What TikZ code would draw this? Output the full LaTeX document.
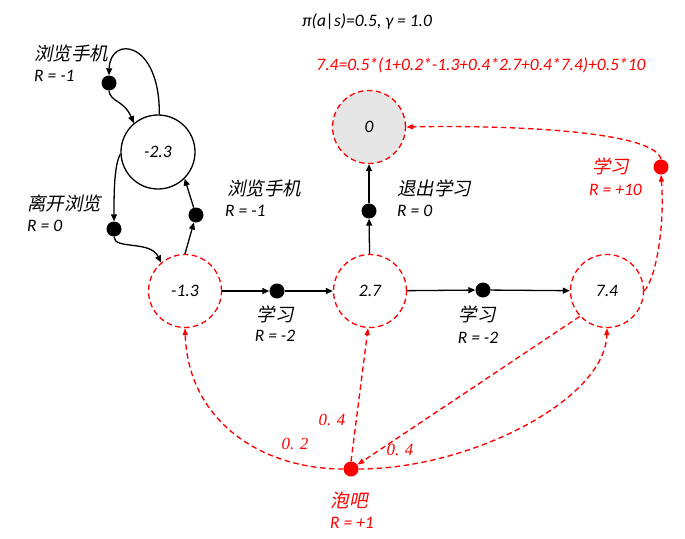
\documentclass[tikz,border=0pt]{standalone}
\usepackage{fontspec}
\setmainfont{Carlito}
\newfontfamily\cjkfont[FakeSlant=0.2]{Noto Sans CJK SC}
\newfontfamily\numserif{Liberation Serif}
\usetikzlibrary{arrows.meta}
\definecolor{rred}{RGB}{255,0,0}
\definecolor{termgray}{RGB}{230,230,230}
\tikzset{
  lat/.style={font=\itshape\fontsize{17.5}{19}\selectfont,inner sep=0pt},
  cjk/.style={font=\cjkfont\fontsize{18.5}{20}\selectfont,inner sep=0pt},
  prob/.style={font=\numserif\itshape\fontsize{17}{19}\selectfont,inner sep=0pt,text=rred},
  statebox/.style={circle,minimum size=73pt,inner sep=0pt,line width=1.3pt,
    font=\itshape\fontsize{17.5}{19}\selectfont},
  redstate/.style={statebox,draw=rred,dash pattern=on 5.5pt off 3.5pt},
  blackstate/.style={statebox,draw=black,minimum size=74pt},
  bdot/.style={circle,fill=black,minimum size=15pt,inner sep=0pt},
  rdot/.style={circle,fill=rred,minimum size=15pt,inner sep=0pt},
  barr/.style={line width=1.3pt,-{Triangle[length=7pt,width=6pt]}},
  rarr/.style={line width=1.35pt,draw=rred,dash pattern=on 5.5pt off 3.5pt,
    -{Triangle[length=7pt,width=5pt]}},
}
\begin{document}
\begin{tikzpicture}[x=1pt,y=-1pt]
\useasboundingbox (0,0) rectangle (685,538);

% states
\node[blackstate] (s1) at (158,152) {-2.3};
\node[redstate] (s2) at (185,291) {-1.3};
\node[redstate] (s3) at (370,291) {2.7};
\node[redstate] (s4) at (607,291) {7.4};
\node[redstate,fill=termgray] (s0) at (369,127) {0};

% action dots
\node[bdot] (dA) at (109,83) {};
\node[bdot] (dB) at (114,229) {};
\node[bdot] (dC) at (196,215) {};
\node[bdot] (dD) at (277,291) {};
\node[bdot] (dE) at (483,290) {};
\node[bdot] (dF) at (369,211) {};
\node[rdot] (dR) at (351,469) {};
\node[rdot] (dS) at (661,167) {};

% black connectors
\draw[barr] (s1.88) .. controls (160,40) and (110,35) .. (dA.north);
\draw[barr] (dA.south) .. controls (110,102) and (124,100) .. (s1.130);
\draw[barr] (s1.183) .. controls (114,165) and (114,195) .. (dB.north);
\draw[barr] (dB.south) .. controls (114,250) and (150,240) .. (s2.130);
\draw[barr] (s2.north) -- (dC);
\draw[barr] (dC) -- (s1.-45);
\draw[barr] (s2) -- (dD);
\draw[barr] (dD) -- (s3);
\draw[barr] (s3) -- (dE);
\draw[barr] (dE) -- (s4);
\draw[barr] (s3) -- (dF);
\draw[barr] (dF) -- (s0);

% red connectors
\draw[rarr] (dR.west) .. controls (260,469) and (188,420) .. (s2.south);
\draw[rarr] (dR.north) -- (s3.-93);
\draw[rarr] (s4.-137) -- (dR);
\draw[rarr] (dR.east) .. controls (470,469) and (605,400) .. (s4.south);
\draw[rarr] (s4.east) .. controls (655,280) and (665,230) .. (dS.south);
\draw[rarr] (dS.north) .. controls (655,130) and (500,125) .. (s0.east);

% labels
\node[lat,anchor=center] (title) at (367,22) {π(a|s)=0.5, γ = 1.0};
\node[lat,anchor=center,text=rred] (formula) at (481,65) {7.4=0.5*(1+0.2*-1.3+0.4*2.7+0.4*7.4)+0.5*10};

\node[cjk,anchor=west] (lA) at (34,53) {浏览手机};
\node[lat,anchor=west] (rA) at (34,76) {R = -1};
\node[cjk,anchor=west] (lB) at (27,203) {离开浏览};
\node[lat,anchor=west] (rB) at (27,226) {R = 0};
\node[cjk,anchor=west] (lC) at (227,188) {浏览手机};
\node[lat,anchor=west] (rC) at (225,211) {R = -1};
\node[cjk] (lD) at (275,314) {学习};
\node[lat] (rD) at (275,336) {R = -2};
\node[cjk] (lE) at (477,314) {学习};
\node[lat] (rE) at (478,338) {R = -2};
\node[cjk,anchor=west] (lF) at (397,188) {退出学习};
\node[lat,anchor=west] (rF) at (397,211) {R = 0};
\node[cjk,anchor=west,text=rred] (lS) at (592,166) {学习};
\node[lat,anchor=west,text=rred] (rS) at (589,190) {R = +10};
\node[cjk,text=rred] (lR) at (349,500) {泡吧};
\node[lat,text=rred] (rR) at (352,523) {R = +1};

\node[prob] (p1) at (332,420) {0. 4};
\node[prob] (p2) at (295,444) {0. 2};
\node[prob] (p3) at (400,450) {0. 4};
\end{tikzpicture}
\end{document}
